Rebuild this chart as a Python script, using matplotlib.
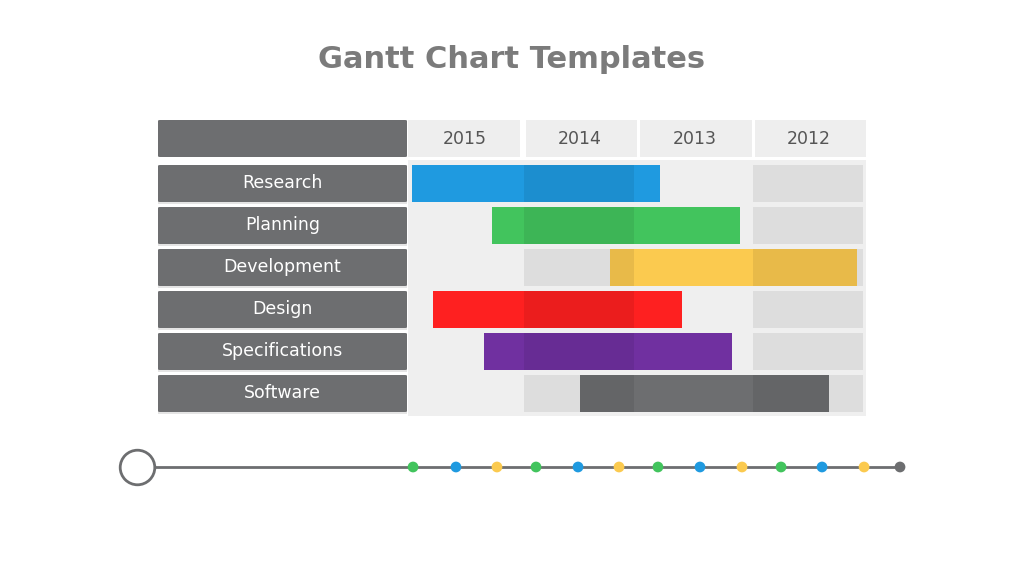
import matplotlib
matplotlib.use("Agg")
import matplotlib.pyplot as plt
from matplotlib.patches import Rectangle, FancyBboxPatch

# ---------------- data ----------------
title = "Gantt Chart Templates"
years = ["2015", "2014", "2013", "2012"]
tasks = ["Research", "Planning", "Development", "Design", "Specifications", "Software"]
# start / end measured in year-columns from the left edge of the "2015" column
task_start = [0.035, 0.73, 1.76, 0.22, 0.66, 1.50]
task_end = [2.20, 2.90, 3.92, 2.39, 2.83, 3.68]
task_colors = ["#1f9ae0", "#42c45d", "#fbca4f", "#fe2020", "#7030a0", "#6d6e70"]
shaded_years = ["2014", "2012"]

# timeline markers (same column units)
timeline_x = [0.044, 0.419, 0.777, 1.118, 1.485, 1.843, 2.183, 2.550, 2.917,
              3.258, 3.616, 3.983, 4.297]
timeline_colors = ["#42c45d", "#1f9ae0", "#fbca4f"] * 4 + ["#6d6e70"]
timeline_start = -2.367

# ---------------- layout ----------------
W, H = 1024, 576
COL = 114.5          # pixels per year column
X0 = 408.0           # left edge of first year column (px)
ROW = 42.0           # pixels per row
Y0 = 183.5           # centre of first task row (px)

fig = plt.figure(figsize=(W / 100, H / 100), dpi=100)
ax = fig.add_axes([0, 0, 1, 1])
ax.set_xlim(-X0 / COL, (W - X0) / COL)
ax.set_ylim((H - Y0) / ROW, -Y0 / ROW)
ax.axis("off")

dark = "#6d6e70"
light = "#efefef"
bar_h = 37 / ROW
gap = 3 / COL
n = len(tasks)
ncol = len(years)

# title
ax.text((512 - X0) / COL, (60 - Y0) / ROW, title,
        ha="center", va="center", fontsize=22, fontweight="bold",
        color="#7b7b7b", family="DejaVu Sans")

# grid background
ax.add_patch(Rectangle((0, -0.56), ncol, n - 0.5 + 0.56 + 0.04,
                       facecolor=light, edgecolor="none", zorder=1))

# header
hy = (120 - Y0) / ROW
hh = 37 / ROW
ax.add_patch(FancyBboxPatch((-250 / COL, hy), 249 / COL, hh,
                            boxstyle="round,pad=0,rounding_size=0.02",
                            facecolor=dark, edgecolor="none", zorder=2))
for j, yr in enumerate(years):
    ax.add_patch(Rectangle((j + (gap if j else 0), hy), 1 - gap, hh,
                           facecolor="#eeeeee", edgecolor="none", zorder=2))
    ax.text(j + 0.5, hy + hh / 2, yr, ha="center", va="center",
            fontsize=12.5, color="#555555", family="DejaVu Sans", zorder=3)

# task label boxes
for i, t in enumerate(tasks):
    ax.add_patch(Rectangle((-250 / COL, i - bar_h / 2 + 0.04), 249 / COL, bar_h,
                           facecolor="#e4e4e4", edgecolor="none", zorder=1.5))
    ax.add_patch(FancyBboxPatch((-250 / COL, i - bar_h / 2), 249 / COL, bar_h,
                                boxstyle="round,pad=0,rounding_size=0.02",
                                facecolor=dark, edgecolor="none", zorder=2))
    ax.text(-125.5 / COL, i, t, ha="center", va="center", fontsize=12.5,
            color="white", family="DejaVu Sans", zorder=3)

# bars
widths = [e - s for s, e in zip(task_start, task_end)]
ax.barh(range(n), widths, left=task_start, height=bar_h, color=task_colors,
        edgecolor="none", zorder=3)

# shaded year columns overlay
for yr in shaded_years:
    j = years.index(yr)
    for i in range(n):
        ax.add_patch(Rectangle((j + 0.5 * gap, i - bar_h / 2), 1 - 1.5 * gap, bar_h,
                               facecolor="black", alpha=0.075,
                               edgecolor="none", zorder=4))

# timeline
ty = (467 - Y0) / ROW
ax.plot([timeline_start, timeline_x[-1]], [ty, ty], color=dark, lw=2, zorder=2)
ax.scatter([timeline_start], [ty], s=620, facecolor="white",
           edgecolor=dark, linewidth=2, zorder=3)
ax.scatter(timeline_x, [ty] * len(timeline_x), s=60, c=timeline_colors,
           edgecolor="none", zorder=4)

fig.savefig("out.png", dpi=100, facecolor="white")
